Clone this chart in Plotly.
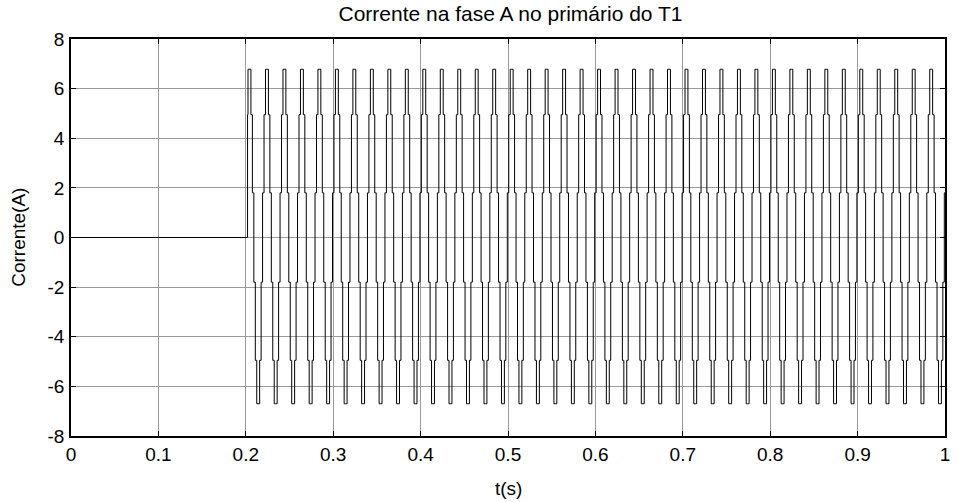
import plotly.graph_objects as go

# Phase-A primary current of transformer T1 (stepped 12-pulse waveform, 50 Hz)
grid_freq_hz = 50.0
switch_on_s = 0.202          # instant the converter is energised
sector_origin_s = 0.1992     # start of the first 30-degree sector of a cycle
end_time_s = 1.0

# current level in each 30-degree sector of one cycle (A)
cycle_levels = [1.8, 4.95, 6.78, 6.78, 4.95, 1.8,
                -1.8, -4.95, -6.7, -6.7, -4.95, -1.8]

x_tick_vals = [0, 0.1, 0.2, 0.3, 0.4, 0.5, 0.6, 0.7, 0.8, 0.9, 1]
x_tick_text = ["0", "0.1", "0.2", "0.3", "0.4", "0.5", "0.6", "0.7", "0.8", "0.9", "1"]
y_tick_vals = [-8, -6, -4, -2, 0, 2, 4, 6, 8]
y_tick_text = ["-8", "-6", "-4", "-2", "0", "2", "4", "6", "8"]

# build the step trace by repeating the one-cycle pattern after switch-on
sector_len = 1.0 / grid_freq_hz / len(cycle_levels)
t_pts = [0.0, switch_on_s]
i_pts = [0.0, 0.0]
k = int((switch_on_s - sector_origin_s) // sector_len)
i_pts.append(cycle_levels[k % 12])
t_pts.append(switch_on_s)
k += 1
while sector_origin_s + k * sector_len < end_time_s:
    t_pts.append(sector_origin_s + k * sector_len)
    i_pts.append(cycle_levels[k % 12])
    k += 1
t_pts.append(end_time_s)
i_pts.append(i_pts[-1])

font_family = "Liberation Sans, Arial, sans-serif"

fig = go.Figure()
fig.add_trace(go.Scatter(
    x=t_pts, y=i_pts, mode="lines", line_shape="hv",
    line=dict(color="black", width=1), showlegend=False,
))

axis_common = dict(
    showline=True, linecolor="black", linewidth=1.5, mirror="ticks",
    ticks="inside", ticklen=5, tickcolor="black", tickwidth=1,
    showgrid=True, gridcolor="#9a9a9a", gridwidth=1,
    zeroline=False,
    tickfont=dict(family=font_family, size=19, color="black"),
)

fig.update_layout(
    width=958, height=502,
    margin=dict(l=71, r=8, t=39, b=66),
    paper_bgcolor="white", plot_bgcolor="white",
    font=dict(family=font_family, color="black"),
    title=dict(text="Corrente na fase A no primário do T1",
               x=(71 + 950) / 2 / 958, xanchor="center",
               y=1 - 14 / 502, yanchor="middle", yref="container",
               font=dict(family=font_family, size=21, color="black")),
    xaxis=dict(range=[0, 1], tickvals=x_tick_vals, ticktext=x_tick_text,
               ticklabelstandoff=0, **axis_common),
    yaxis=dict(range=[-8, 8], tickvals=y_tick_vals, ticktext=y_tick_text,
               ticklabelstandoff=1, **axis_common),
    annotations=[
        dict(text="t(s)", xref="paper", yref="paper", x=0.5, y=(436 - 488) / 397,
             xanchor="center", yanchor="middle", showarrow=False,
             font=dict(family=font_family, size=19, color="black")),
        dict(text="Corrente(A)", xref="paper", yref="paper", x=(18 - 71) / 879, y=0.5,
             xanchor="center", yanchor="middle", showarrow=False, textangle=-90,
             font=dict(family=font_family, size=19, color="black")),
    ],
)

fig.write_html("out.html")
